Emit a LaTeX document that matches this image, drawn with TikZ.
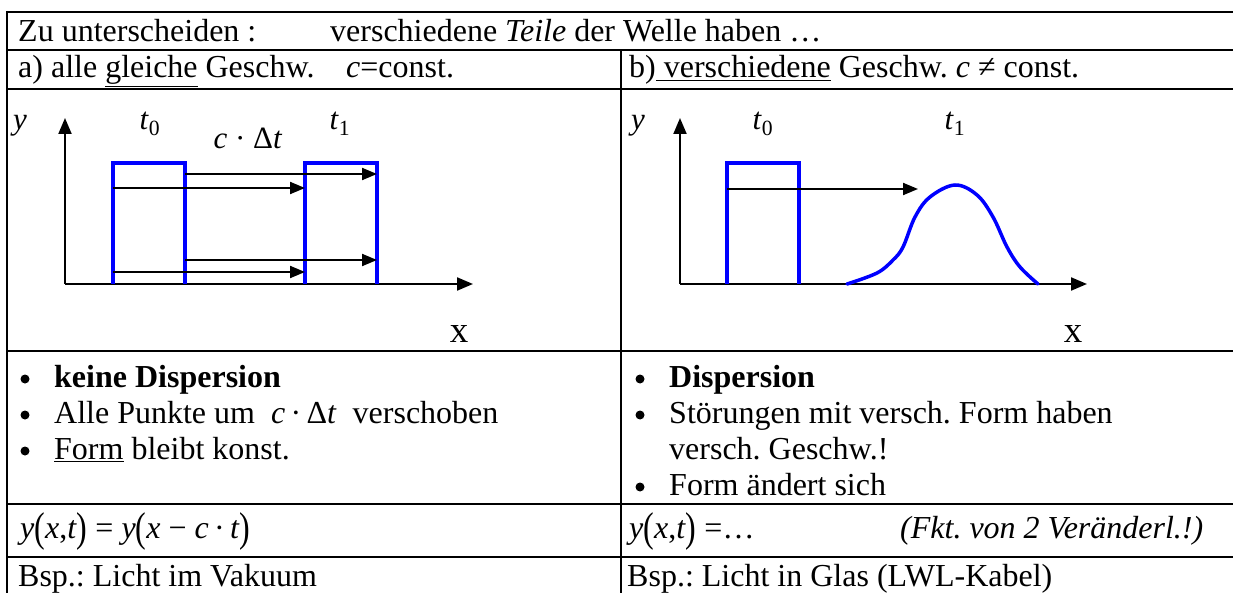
\documentclass[tikz,border=0pt]{standalone}
\usepackage{fontspec}
\setmainfont{Liberation Serif}
\usepackage{graphicx}
\usetikzlibrary{arrows.meta}
\frenchspacing
\newcommand{\bpar}[1]{\raisebox{-0.1em}{\scalebox{1}[1.3]{#1}}}
\tikzset{
  txt/.style={anchor=base west, inner sep=0pt, font=\fontsize{32}{36}\selectfont\frenchspacing},
  lbl/.style={anchor=base, inner sep=0pt, font=\fontsize{31}{36}\selectfont},
  xlbl/.style={anchor=base, inner sep=0pt, font=\fontsize{37}{40}\selectfont},
  gridline/.style={line width=2pt, black},
  axis/.style={line width=2pt, -{Triangle[length=16pt,width=13pt]}},
  shiftarrow/.style={line width=2pt, -{Triangle[length=15pt,width=12pt]}},
  pulse/.style={line width=3.5pt, blue, line join=miter},
  bul/.style={circle, fill=black, inner sep=0pt, minimum size=9pt},
}
\begin{document}
\begin{tikzpicture}[x=1pt,y=-1pt]
\useasboundingbox (0,0) rectangle (1233,593);
\fill[white] (0,0) rectangle (1233,593);
% table grid
\foreach \yy in {12,50,89,351,504,557}
  \draw[gridline] (7,\yy) -- (1233,\yy);
\draw[gridline] (7,11) -- (7,593);
\draw[gridline] (621,50) -- (621,593);

% row 1
\node[txt] (r1a) at (18,42) {Zu unterscheiden :};
\node[txt] (r1b) at (330,42) {verschiedene \textit{Teile} der Welle haben …};
% row 2
\node[txt] (r2a) at (18,78) {a) alle \underline{gleiche} Geschw.};
\node[txt] (r2b) at (346,78) {\textit{c}=const.};
\node[txt] (r2c) at (629,78) {b)\underline{ verschiedene} Geschw. \textit{c} ≠ const.};

% plot a
\coordinate (ao) at (65,284);
\draw[axis] (ao) -- (65,118);
\draw[axis] (ao) -- (473,284);
\draw[pulse] (113,284) -- (113,163) -- (185,163) -- (185,284);
\draw[pulse] (305,284) -- (305,163) -- (377,163) -- (377,284);
\coordinate (a1s) at (185,174); \coordinate (a1e) at (377,174);
\coordinate (a2s) at (113,188); \coordinate (a2e) at (305,188);
\coordinate (a3s) at (185,260); \coordinate (a3e) at (377,260);
\coordinate (a4s) at (113,272); \coordinate (a4e) at (305,272);
\draw[shiftarrow] (a1s) -- (a1e);
\draw[shiftarrow] (a2s) -- (a2e);
\draw[shiftarrow] (a3s) -- (a3e);
\draw[shiftarrow] (a4s) -- (a4e);
\node[lbl] (ay) at (20,130) {\textit{y}};
\node[lbl] (at0) at (150,130) {\textit{t}\textsubscript{0}};
\node[lbl] (at1) at (340,130) {\textit{t}\textsubscript{1}};
\node[lbl] (acdt) at (248,149) {\textit{c} · Δ\textit{t}};
\node[xlbl] (ax) at (459,342) {x};

% plot b
\coordinate (bo) at (680,284);
\draw[axis] (bo) -- (680,118);
\draw[axis] (bo) -- (1087,284);
\draw[pulse] (727,284) -- (727,163) -- (799,163) -- (799,284);
\coordinate (b1s) at (727,189); \coordinate (b1e) at (918,189);
\draw[shiftarrow] (b1s) -- (b1e);
\draw[pulse, line cap=round] plot[smooth, tension=0.6] coordinates {(847,284) (877,273) (893,260) (903,247) (915,217) (930,197) (955,185) (977,195) (993,217) (1007,247) (1020,267) (1038,284)};
\node[lbl] (by) at (638,130) {\textit{y}};
\node[lbl] (bt0) at (763,130) {\textit{t}\textsubscript{0}};
\node[lbl] (bt1) at (955,130) {\textit{t}\textsubscript{1}};
\node[xlbl] (bx) at (1073,342) {x};

% row 4 left
\node[bul] (lb1) at (25,379) {};
\node[bul] (lb2) at (25,415) {};
\node[bul] (lb3) at (25,451) {};
\node[txt] (l1) at (54,387) {\textbf{keine Dispersion}};
\node[txt] (l2) at (54,423) {Alle Punkte um \ \textit{c}\,·\,Δ\textit{t}\ \ verschoben};
\node[txt] (l3) at (54,459) {\underline{Form} bleibt konst.};
% row 4 right
\node[bul] (rb1) at (640,379) {};
\node[bul] (rb2) at (640,415) {};
\node[bul] (rb4) at (640,487) {};
\node[txt] (r1) at (669,387) {\textbf{Dispersion}};
\node[txt] (r2) at (669,423) {Störungen mit versch. Form haben};
\node[txt] (r3) at (669,459) {versch. Geschw.!};
\node[txt] (r4) at (669,495) {Form ändert sich};

% row 5
\node[txt] (fl) at (20,538) {\textit{y}\bpar{(}\textit{x},\textit{t}\bpar{)} = \textit{y}\bpar{(}\textit{x} − \textit{c}\,·\,\textit{t}\bpar{)}};
\node[txt] (fr) at (629,538) {\textit{y}\bpar{(}\textit{x},\textit{t}\bpar{)} =…};
\node[txt] (frn) at (900,538) {\textit{(Fkt. von 2 Veränderl.!)}};

% row 6
\node[txt] (bl) at (18,586) {Bsp.: Licht im Vakuum};
\node[txt] (br) at (627,586) {Bsp.: Licht in Glas (LWL-Kabel)};
\end{tikzpicture}
\end{document}
